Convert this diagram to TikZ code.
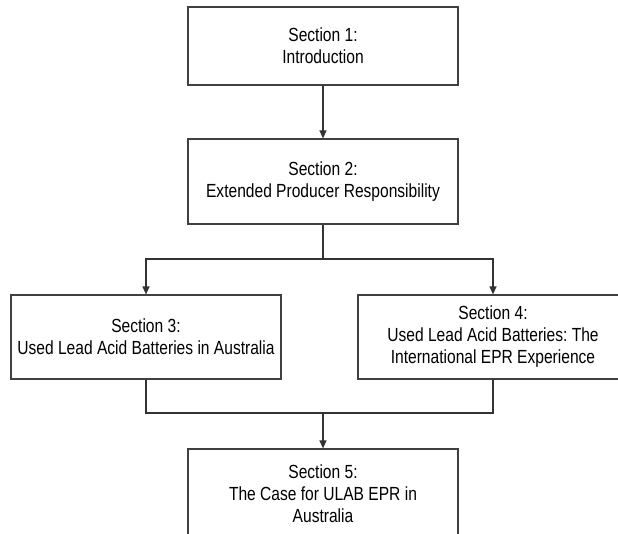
\documentclass[tikz,border=0pt]{standalone}
\usepackage{fontspec}
\setmainfont{Liberation Sans}[FakeStretch=0.82]
\usetikzlibrary{arrows.meta}

\begin{document}
\begin{tikzpicture}[x=1pt,y=-1pt,
  sec/.style={draw=black!75,line width=1.2pt,minimum width=270pt,align=center,
    inner sep=0pt,font=\fontsize{19}{22}\selectfont\frenchspacing},
  link/.style={black!80,line width=1.2pt},
  flow/.style={link,-{Triangle[length=8pt,width=7pt]}}]
\useasboundingbox (0,0) rectangle (618,533);
\clip (0,0) rectangle (618,533);

\node[sec,minimum height=78pt] (s1) at (323,46) {Section 1:\\Introduction};
\node[sec,minimum height=85pt] (s2) at (323,181.5) {Section 2:\\Extended Producer Responsibility};
\node[sec,minimum height=84pt] (s3) at (146,337) {Section 3:\\Used Lead Acid Batteries in Australia};
\node[sec,minimum height=84pt] (s4) at (493,337) {Section 4:\\Used Lead Acid Batteries: The\\International EPR Experience};
\node[sec,minimum height=90pt] (s5) at (323,494) {Section 5:\\The Case for ULAB EPR in\\Australia};

\coordinate (fork) at (323,259);
\coordinate (join) at (323,413);

\draw[flow] (s1) -- (s2);
\draw[link] (s2) -- (fork);
\draw[flow] (fork) -| (s3.north);
\draw[flow] (fork) -| (s4.north);
\draw[link] (s3.south) |- (join);
\draw[link] (s4.south) |- (join);
\draw[flow] (join) -- (s5);
\end{tikzpicture}
\end{document}
